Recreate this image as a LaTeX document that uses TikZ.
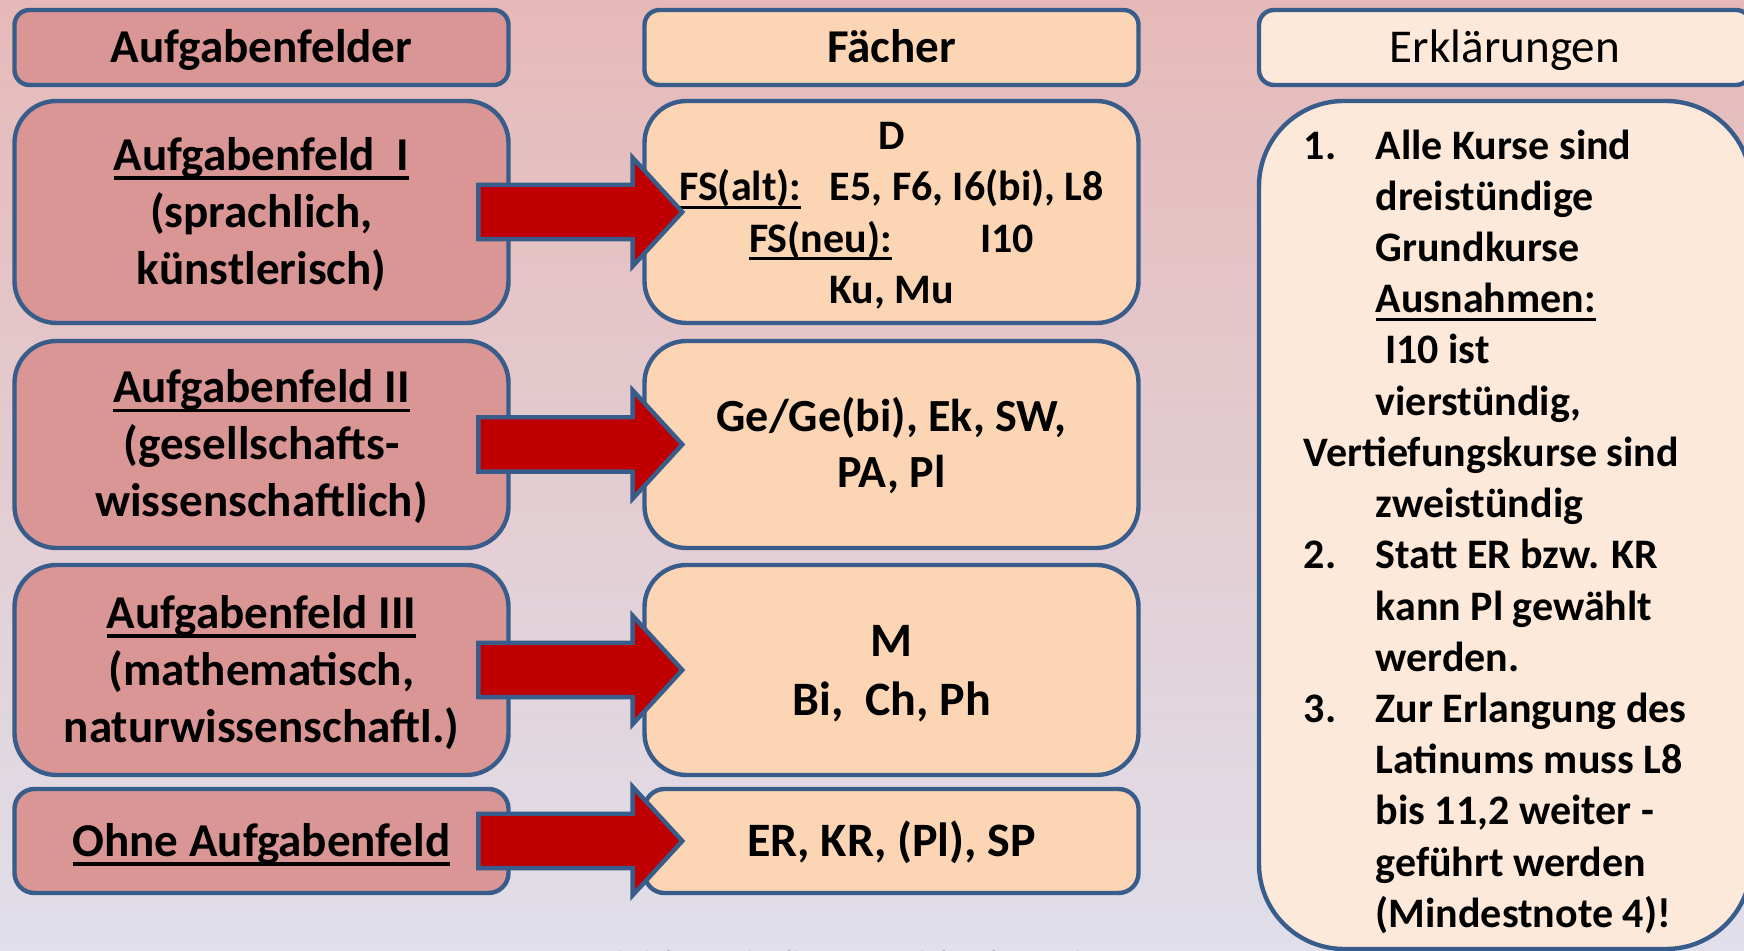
\documentclass[tikz,border=0pt]{standalone}
\usepackage{fontspec}
\setmainfont{Carlito}
\usetikzlibrary{shapes.arrows}
\definecolor{randblau}{RGB}{56,93,138}
\definecolor{feldrot}{RGB}{217,150,148}
\definecolor{fachorange}{RGB}{252,213,180}
\definecolor{infocreme}{RGB}{253,233,217}
\definecolor{pfeilrot}{RGB}{192,0,0}
\definecolor{bgoben}{RGB}{230,185,184}
\definecolor{bgunten}{RGB}{224,223,234}
\newcommand{\grosstext}{\fontsize{13.4}{16.2}\selectfont}
\newcommand{\infotext}{\fontsize{11.95}{14.57}\selectfont}
\newcommand{\nr}[1]{\makebox[0.72cm][l]{#1}}
\newcommand{\ein}{\hspace*{0.72cm}}
\newcommand{\strich}[1]{\setbox0\hbox{#1}\rlap{\rule[-0.2em]{\wd0}{0.08em}}\box0}
\newcommand{\tiefer}[1]{\raisebox{-0.04cm}[\height][\depth]{\begin{tabular}{@{}c@{}}#1\end{tabular}}}
\tikzset{
    kasten/.style={draw=randblau, line width=1.25pt, inner sep=0pt, align=center, font=\bfseries\grosstext},
    feld/.style={kasten, fill=feldrot, minimum width=4.94cm},
    fach/.style={kasten, fill=fachorange, minimum width=4.94cm},
    info/.style={kasten, fill=infocreme, minimum width=4.92cm},
    fatarrow/.style={single arrow, draw=randblau, fill=pfeilrot, line width=1.25pt, inner sep=0pt,
        text height=0.25cm, text depth=0.25cm, minimum height=2.04cm,
        single arrow head extend=0.27cm, single arrow tip angle=95, anchor=tip, xshift=0.43cm}
}
\begin{document}
\begin{tikzpicture}
                \useasboundingbox (0,0) rectangle (17.44,-9.51);
                \shade[top color=bgoben, bottom color=bgunten] (0,0) rectangle (17.44,-9.51);

                \node[feld, minimum height=0.75cm, rounded corners=0.15cm] (feldkopf) at (2.615,-0.475) {\tiefer{Aufgabenfelder}};
                \node[feld, minimum height=2.22cm, rounded corners=0.42cm] (af1) at (2.615,-2.12) {\tiefer{\strich{Aufgabenfeld\ \ I}\\(sprachlich,\\künstlerisch)}};
                \node[feld, minimum height=2.07cm, rounded corners=0.42cm] (af2) at (2.615,-4.445) {\tiefer{\strich{Aufgabenfeld II}\\(gesellschafts-\\wissenschaftlich)}};
                \node[feld, minimum height=2.10cm, rounded corners=0.42cm] (af3) at (2.615,-6.70) {\tiefer{\strich{Aufgabenfeld III}\\(mathematisch,\\naturwissenschaftl.)}};
                \node[feld, minimum height=1.04cm, rounded corners=0.2cm] (af4) at (2.615,-8.41) {\tiefer{\strich{Ohne Aufgabenfeld}}};

                \node[fach, minimum height=0.75cm, rounded corners=0.15cm] (fachkopf) at (8.915,-0.475) {\tiefer{Fächer}};
                \node[fach, minimum height=2.22cm, rounded corners=0.42cm, font=\bfseries\fontsize{11.95}{14.65}\selectfont] (fa1) at (8.915,-2.12) {\tiefer{D\\\strich{FS(alt):}\ \ \ E5, F6, I6(bi), L8\\\strich{FS(neu):}\hspace{2.1em}I10\\Ku, Mu}};
                \node[fach, minimum height=2.07cm, rounded corners=0.42cm, font=\bfseries\fontsize{13.1}{15.8}\selectfont] (fa2) at (8.915,-4.445) {\tiefer{Ge/Ge(bi), Ek, SW,\\PA, Pl}};
                \node[fach, minimum height=2.10cm, rounded corners=0.42cm, font=\bfseries\fontsize{13.66}{16.8}\selectfont] (fa3) at (8.915,-6.70) {\tiefer{M\\Bi,\ \ Ch, Ph}};
                \node[fach, minimum height=1.04cm, rounded corners=0.2cm, font=\bfseries\fontsize{13.66}{16.8}\selectfont] (fa4) at (8.915,-8.41) {\tiefer{ER, KR, (Pl), SP}};

                \node[info, minimum height=0.75cm, rounded corners=0.15cm, font=\grosstext] (infokopf) at (15.05,-0.475) {\tiefer{Erklärungen}};
                \node[info, minimum height=8.48cm, rounded corners=0.85cm] (infobox) at (15.05,-5.25) {};
                \node[anchor=north west, inner sep=0pt, align=left, font=\bfseries\infotext] (infotxt) at (13.03,-1.29)
                    {\nr{1.}Alle Kurse sind\\\ein dreistündige\\\ein Grundkurse\\\ein\strich{Ausnahmen:}\\\ein\ I10 ist\\\ein vierstündig,\\Vertiefungskurse sind\\\ein zweistündig\\
                     \nr{2.}Statt ER bzw. KR\\\ein kann Pl gewählt\\\ein werden.\\
                     \nr{3.}Zur Erlangung des\\\ein Latinums muss L8\\\ein bis 11,2 weiter -\\\ein geführt werden\\\ein(Mindestnote 4)!};

                \path (af1) -- (fa1) node[pos=1, fatarrow] (pfeil1) {};
                \path (af2) -- (fa2) node[pos=1, fatarrow] (pfeil2) {};
                \path (af3) -- (fa3) node[pos=1, fatarrow] (pfeil3) {};
                \path (af4) -- (fa4) node[pos=1, fatarrow] (pfeil4) {};

                \node[anchor=base, text=gray, font=\fontsize{8.8}{10}\selectfont] (fusszeile) at (8.48,-9.73) {Einführung in die gymnasiale Oberstufe};
\end{tikzpicture}
\end{document}
